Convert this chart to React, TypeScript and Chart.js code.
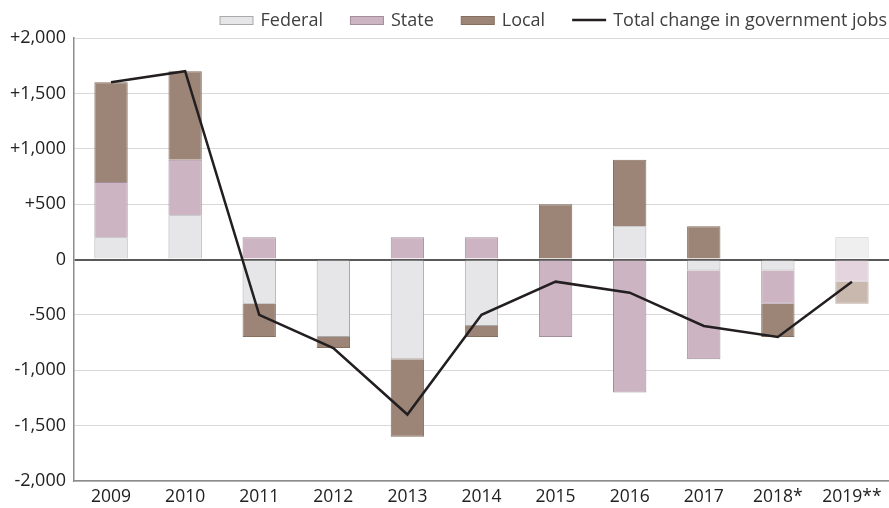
import React, { useEffect, useRef } from "react";
import { Chart, registerables } from "chart.js";

Chart.register(...registerables);

const categories = ["2009", "2010", "2011", "2012", "2013", "2014", "2015", "2016", "2017", "2018*", "2019**"];
const federal = [200, 400, -400, -700, -900, -600, 0, 300, -100, -100, 200];
const state = [500, 500, 200, 0, 200, 200, -700, -1200, -800, -300, -200];
const local = [900, 800, -300, -100, -700, -100, 500, 600, 300, -300, -200];
const total = [1600, 1700, -500, -800, -1400, -500, -200, -300, -600, -700, -200];
const yTicks = [-2000, -1500, -1000, -500, 0, 500, 1000, 1500, 2000];

const FONT = "'Open Sans', sans-serif";

function perBar(normal: string, last: string) {
  return categories.map((_, i) => (i === categories.length - 1 ? last : normal));
}

const legendPlugin = {
  id: "customLegend",
  afterDraw(chart: any) {
    const ctx = chart.ctx;
    const ds = chart.data.datasets;
    ctx.save();
    ctx.font = `18px ${FONT}`;
    const boxW = 34;
    const boxH = 8;
    const gap = 7;
    const spacing = 27;
    const widths = ds.map((d: any) => boxW + gap + ctx.measureText(d.label).width);
    const totalW = widths.reduce((a: number, b: number) => a + b, 0) + spacing * (ds.length - 1);
    let x = chart.width - 2 - totalW;
    const yc = 20;
    ds.forEach((d: any, i: number) => {
      if (d.type === "line") {
        ctx.strokeStyle = d.borderColor;
        ctx.lineWidth = 2.5;
        ctx.beginPath();
        ctx.moveTo(x, yc);
        ctx.lineTo(x + boxW, yc);
        ctx.stroke();
      } else {
        ctx.fillStyle = d.backgroundColor[0];
        ctx.strokeStyle = d.borderColor[0];
        ctx.lineWidth = 1;
        ctx.fillRect(x + 0.5, yc - boxH / 2 + 0.5, boxW - 1, boxH);
        ctx.strokeRect(x + 0.5, yc - boxH / 2 + 0.5, boxW - 1, boxH);
      }
      ctx.fillStyle = "#404040";
      ctx.textBaseline = "middle";
      ctx.textAlign = "left";
      ctx.fillText(d.label, x + boxW + gap, yc + 1);
      x += widths[i] + spacing;
    });
    ctx.restore();
  },
};

export default function App() {
  const ref = useRef<HTMLCanvasElement | null>(null);
  useEffect(() => {
    if (!ref.current) return;
    const chart = new Chart(ref.current, {
      type: "bar",
      data: {
        labels: categories,
        datasets: [
          {
            type: "bar",
            label: "Federal",
            data: federal,
            backgroundColor: perBar("#e6e6e8", "#efeff0"),
            borderColor: perBar("#a9a9a9", "#c8c8c8"),
            borderWidth: 1,
            stack: "jobs",
            order: 1,
            barPercentage: 0.9,
            categoryPercentage: 0.5,
          } as any,
          {
            type: "bar",
            label: "State",
            data: state,
            backgroundColor: perBar("#cdb4c3", "#e4d4dd"),
            borderColor: perBar("#a38f9c", "#cbbdc5"),
            borderWidth: 1,
            stack: "jobs",
            order: 1,
            barPercentage: 0.9,
            categoryPercentage: 0.5,
          },
          {
            type: "bar",
            label: "Local",
            data: local,
            backgroundColor: perBar("#9c8577", "#c9b8ae"),
            borderColor: perBar("#85705f", "#bcaaa0"),
            borderWidth: 1,
            stack: "jobs",
            order: 1,
            barPercentage: 0.9,
            categoryPercentage: 0.5,
          },
          {
            type: "line",
            label: "Total change in government jobs",
            data: total,
            borderColor: "#231f20",
            backgroundColor: "#231f20",
            borderWidth: 2.5,
            pointRadius: 0,
            tension: 0,
            stack: "total",
            order: 0,
          } as any,
        ],
      },
      plugins: [legendPlugin],
      options: {
        animation: false,
        responsive: true,
        maintainAspectRatio: false,
        layout: { padding: { left: 0, right: 0, top: 38, bottom: 0 } },
        plugins: {
          tooltip: { enabled: false },
          legend: { display: false },
        },
        scales: {
          x: {
            stacked: true,
            grid: { display: false, drawTicks: false },
            border: { display: true, color: "#8c8c8c", width: 1.5 },
            ticks: { font: { family: FONT, size: 17.5 }, color: "#222", padding: 6 },
            afterFit: (axis: any) => {
              axis.height = 27;
            },
          },
          y: {
            stacked: true,
            min: -2000,
            max: 2000,
            afterBuildTicks: (axis: any) => {
              axis.ticks = yTicks.map((v) => ({ value: v }));
            },
            afterFit: (axis: any) => {
              axis.width = 74;
            },
            grid: {
              drawTicks: false,
              color: (ctx: any) => (ctx.tick && ctx.tick.value === 0 ? "#595959" : "#d9d9d9"),
              lineWidth: (ctx: any) => (ctx.tick && ctx.tick.value === 0 ? 2 : 1),
            },
            border: { display: true, color: "#8c8c8c", width: 1.5 },
            ticks: {
              font: { family: FONT, size: 18 },
              color: "#222",
              padding: 8,
              callback: (v: any) => {
                const n = Number(v);
                const s = Math.abs(n).toLocaleString("en-US");
                if (n > 0) return "+" + s;
                if (n < 0) return "-" + s;
                return "0";
              },
            },
          },
        },
      },
    });
    return () => chart.destroy();
  }, []);
  return (
    <div style={{ position: "fixed", left: 0, top: 0, width: 889, height: 508, background: "#fff" }}>
      <canvas ref={ref} />
    </div>
  );
}
